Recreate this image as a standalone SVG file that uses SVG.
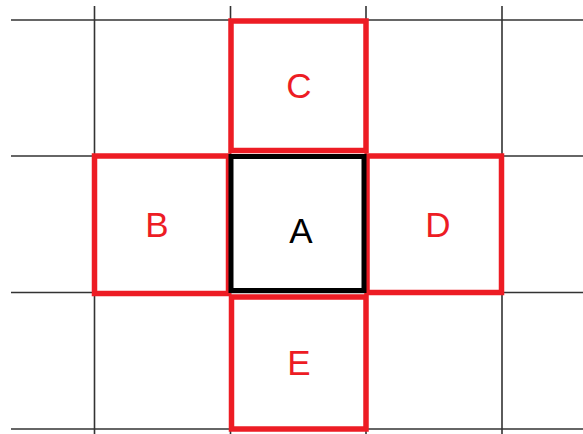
<svg xmlns="http://www.w3.org/2000/svg" width="583" height="434" viewBox="0 0 583 434">
<style>
.grid{stroke:#333;stroke-width:1.6;fill:none}
.red{fill:none;stroke:#ED1C24;stroke-width:5.5}
.blk{fill:none;stroke:#000;stroke-width:5}
.lbl{font-family:"Liberation Sans",Arial,sans-serif;font-size:35px;text-anchor:middle}
.r{fill:#ED1C24}
.k{fill:#000}
</style>
<rect width="583" height="434" fill="#fff"/>
<g id="grid">
<line class="grid" x1="11" y1="20" x2="583" y2="20"/>
<line class="grid" x1="11" y1="156" x2="583" y2="156"/>
<line class="grid" x1="11" y1="292.5" x2="583" y2="292.5"/>
<line class="grid" x1="11" y1="429" x2="583" y2="429"/>
<line class="grid" x1="94.5" y1="6" x2="94.5" y2="434"/>
<line class="grid" x1="230.5" y1="6" x2="230.5" y2="434"/>
<line class="grid" x1="366" y1="6" x2="366" y2="434"/>
<line class="grid" x1="502" y1="6" x2="502" y2="434"/>
</g>
<g id="C">
<rect class="red" x="231" y="21" width="135" height="129.5"/>
<text class="lbl r" x="299" y="98">C</text>
</g>
<g id="B">
<rect class="red" x="94.5" y="156" width="134" height="137.5"/>
<text class="lbl r" x="157" y="237">B</text>
</g>
<g id="D">
<rect class="red" x="367" y="156" width="134.5" height="136.5"/>
<text class="lbl r" x="438" y="237">D</text>
</g>
<g id="E">
<rect class="red" x="231.5" y="297" width="134.5" height="132"/>
<text class="lbl r" x="299" y="375">E</text>
</g>
<g id="A">
<rect class="blk" x="231" y="156.5" width="133" height="134"/>
<text class="lbl k" x="301" y="243">A</text>
</g>
</svg>
